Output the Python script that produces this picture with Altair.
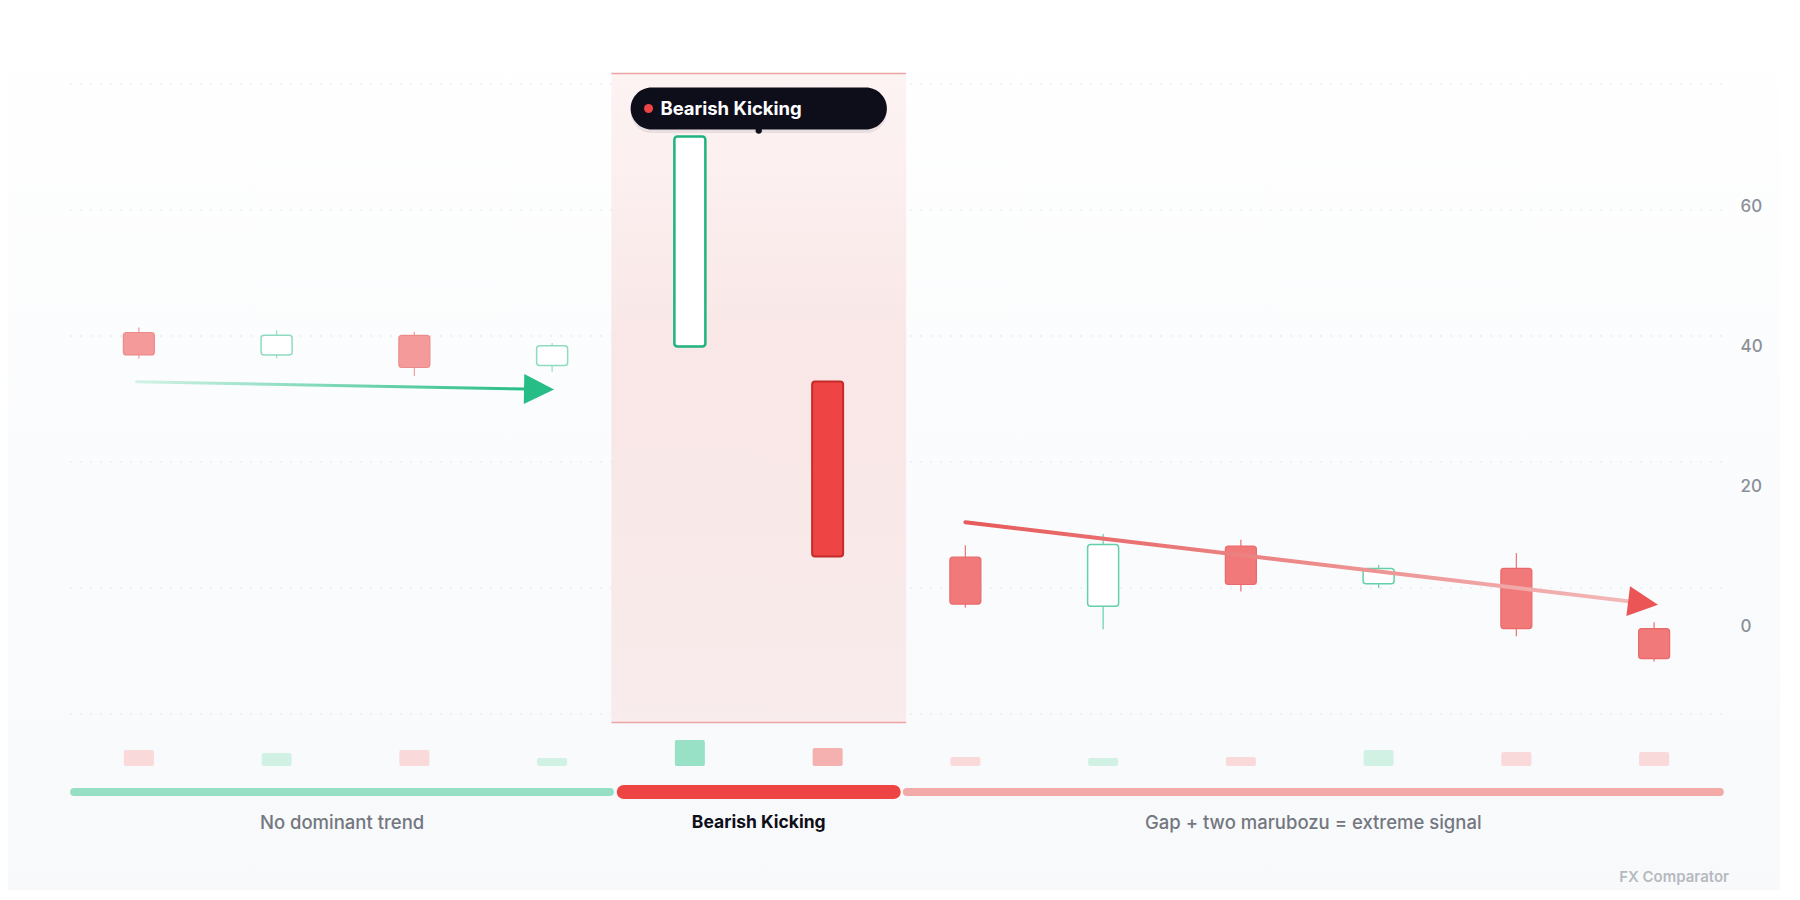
import altair as alt
import pandas as pd

# ---------------- data ----------------
candle_idx = list(range(12))
opens  = [42.0, 38.8, 41.6, 37.3, 40.0, 35.0, 9.9, 2.9, 11.5, 6.1, 8.3, -0.3]
highs  = [42.7, 42.3, 42.1, 40.5, 70.0, 35.0, 11.6, 13.2, 12.4, 8.8, 10.5, 0.6]
lows   = [38.3, 38.3, 35.8, 36.4, 40.0, 10.0, 2.7, -0.4, 5.0, 5.5, -1.4, -5.0]
closes = [38.8, 41.6, 37.0, 40.1, 70.0, 10.0, 3.2, 11.7, 6.0, 8.3, -0.3, -4.6]
volumes = [16, 13, 16, 8, 26, 18, 9, 8, 9, 16, 14, 14]
phases = ["before"] * 4 + ["pattern"] * 2 + ["after"] * 6

y_ticks = [0, 20, 40, 60]
segment_labels = ["No dominant trend", "Bearish Kicking", "Gap + two marubozu = extreme signal"]
segment_ranges = [(0, 4), (4, 6), (6, 12)]
pattern_name = "Bearish Kicking"
credit_text = "FX Comparator"

# trend arrows (candle-index units, price units)
trend_in_x = [0.483, 3.32]
trend_in_y = [34.96, 33.93]
trend_out_x = [6.50, 11.32]
trend_out_y = [14.9, 3.59]

FONT = "Inter"

# ---------------- styling helpers ----------------
def body_style(i):
    up = closes[i] >= opens[i]
    ph = phases[i]
    if ph == "pattern":
        return ("#ffffff", "#1fb37f", 2.5) if up else ("#ef4444", "#c42b2b", 2.0)
    if ph == "before":
        return ("#ffffff", "#8edbbf", 1.5) if up else ("#f49a9a", "#ec8b8b", 1.2)
    return ("#ffffff", "#63d0a8", 1.5) if up else ("#f27979", "#e96a6a", 1.2)

def wick_color(i):
    up = closes[i] >= opens[i]
    ph = phases[i]
    if ph == "before":
        return "#9fe0c8" if up else "#f2a3a3"
    return "#6fd4ae" if up else "#ec7b7b"

def vol_color(i):
    up = closes[i] >= opens[i]
    ph = phases[i]
    if ph == "pattern":
        return "#98e1c6" if up else "#f5b0b0"
    return "#d2f1e5" if up else "#f9d9d9"

n = len(opens)
df = pd.DataFrame({
    "x": [i + 0.5 for i in candle_idx],
    "open": opens, "high": highs, "low": lows, "close": closes,
    "vol": volumes,
})
df["fill"] = [body_style(i)[0] for i in range(n)]
df["stroke"] = [body_style(i)[1] for i in range(n)]
df["sw"] = [body_style(i)[2] for i in range(n)]
df["wick"] = [wick_color(i) for i in range(n)]
df["vcol"] = [vol_color(i) for i in range(n)]

span = max(highs) - min(lows)
y_lo = min(lows) - 0.1 * span
y_hi = max(highs) + 0.1 * span
grid_vals = [y_lo + k * (y_hi - y_lo) / 5 for k in range(6)]

x_scale = alt.Scale(domain=[0, n], nice=False, zero=False)
y_scale = alt.Scale(domain=[y_lo, y_hi], nice=False, zero=False)
y_axis = alt.Axis(orient="right", values=y_ticks, grid=False, domain=False,
                  ticks=False, labelPadding=12, labelAlign="left", labelFont=FONT,
                  labelFontWeight=500, labelFontSize=17, labelColor="#8b9099",
                  title=None, zindex=2)
X = lambda f: alt.X(f, type="quantitative", scale=x_scale, axis=None)
Y = lambda f: alt.Y(f, type="quantitative", scale=y_scale, axis=y_axis)

# ---------------- page background ----------------
bg = alt.Chart(pd.DataFrame({"k": [0]})).mark_rect(
    fill=alt.LinearGradient(gradient="linear", x1=0, x2=0, y1=0, y2=1,
                            stops=[alt.GradientStop(color="#ffffff", offset=0),
                                   alt.GradientStop(color="#fbfcfd", offset=0.45),
                                   alt.GradientStop(color="#f8f9fb", offset=1)])
).encode(x=alt.value(-65), x2=alt.value(1730), y=alt.value(-84), y2=alt.value(816))

# ---------------- grid ----------------
grid = alt.Chart(pd.DataFrame({"v": grid_vals, "x0": 0, "x1": n})).mark_rule(
    color="#e3e6ea", strokeWidth=1, strokeDash=[2, 8]
).encode(x=X("x0"), x2="x1", y=Y("v"))

# ---------------- pattern highlight ----------------
p0, p1 = segment_ranges[1]
hl = pd.DataFrame({"x0": [p0 - 0.07], "x1": [p1 + 0.07],
                   "y0": [y_hi + 1.5], "y1": [y_lo - 1.2]})
hl_rect = alt.Chart(hl).mark_rect(
    fill=alt.LinearGradient(gradient="linear", x1=0, x2=0, y1=0, y2=1,
                            stops=[alt.GradientStop(color="#fdf3f3", offset=0),
                                   alt.GradientStop(color="#f9e5e5", offset=0.45),
                                   alt.GradientStop(color="#f9ebeb", offset=1)]),
    opacity=0.95
).encode(x=X("x0"), x2="x1", y=Y("y0"), y2="y1")
hl_top = alt.Chart(hl).mark_rule(color="#eda5a5", strokeWidth=1.5).encode(
    x=X("x0"), x2="x1", y=Y("y0"))
hl_bot = alt.Chart(hl).mark_rule(color="#eda5a5", strokeWidth=1.5).encode(
    x=X("x0"), x2="x1", y=Y("y1"))

# ---------------- candles ----------------
wicks = alt.Chart(df).mark_rule(strokeWidth=1.3).encode(
    x=X("x"), y=Y("low"), y2="high", color=alt.Color("wick:N", scale=None))
bodies = alt.Chart(df).mark_bar(width=31, cornerRadius=3).encode(
    x=X("x"), y=Y("open"), y2="close",
    fill=alt.Fill("fill:N", scale=None),
    stroke=alt.Stroke("stroke:N", scale=None),
    strokeWidth=alt.StrokeWidth("sw:Q", scale=None))

# ---------------- arrows ----------------
tri = "M-1,-1L1,0L-1,1Z"
gin = alt.Chart(pd.DataFrame({"x": trend_in_x, "v": trend_in_y})).mark_line(
    strokeWidth=3, strokeCap="round",
    color=alt.LinearGradient(gradient="linear", x1=0, x2=1, y1=0, y2=0,
                             stops=[alt.GradientStop(color="#d2f2e6", offset=0),
                                    alt.GradientStop(color="#27bd87", offset=1)])
).encode(x=X("x"), y=Y("v"))
gdx = trend_in_x[1] - trend_in_x[0]
gdy = trend_in_y[1] - trend_in_y[0]
gin_head = alt.Chart(pd.DataFrame({"x": [trend_in_x[1] + 0.085], "v": [trend_in_y[1] + gdy / gdx * 0.085]})).mark_point(
    shape=tri, size=900, filled=True, opacity=1, color="#27bd87", angle=1
).encode(x=X("x"), y=Y("v"))

gout = alt.Chart(pd.DataFrame({"x": trend_out_x, "v": trend_out_y})).mark_line(
    strokeWidth=4, strokeCap="round",
    color=alt.LinearGradient(gradient="linear", x1=0, x2=1, y1=0, y2=0,
                             stops=[alt.GradientStop(color="#e65a5a", offset=0),
                                    alt.GradientStop(color="#f3b8b8", offset=1)])
).encode(x=X("x"), y=Y("v"))
rdx = trend_out_x[1] - trend_out_x[0]
rdy = trend_out_y[1] - trend_out_y[0]
gout_head = alt.Chart(pd.DataFrame({"x": [trend_out_x[1] + 0.1], "v": [trend_out_y[1] + rdy / rdx * 0.1]})).mark_point(
    shape=tri, size=900, filled=True, opacity=1, color="#eb5555", angle=7
).encode(x=X("x"), y=Y("v"))

# ---------------- tooltip ----------------
tc = (p0 + p1) / 2
ty = y_hi - 3.5
tip = pd.DataFrame({"x0": [tc - 0.93], "x1": [tc + 0.93], "y0": [ty + 3.0], "y1": [ty - 3.0],
                    "sy0": [ty + 2.6], "sy1": [ty - 3.5],
                    "dx": [tc - 0.80], "tx": [tc - 0.714], "ty": [ty], "label": [pattern_name],
                    "px": [tc], "py": [ty - 3.14]})
tip_shadow = alt.Chart(tip).mark_rect(cornerRadius=22, fill="#0e0e1b", opacity=0.08).encode(
    x=X("x0"), x2="x1", y=Y("sy0"), y2="sy1")
tip_rect = alt.Chart(tip).mark_rect(cornerRadius=21, fill="#0e0e1b").encode(
    x=X("x0"), x2="x1", y=Y("y0"), y2="y1")
tip_dot = alt.Chart(tip).mark_circle(size=81, color="#ef4444", opacity=1).encode(
    x=X("dx"), y=Y("ty"))
tip_text = alt.Chart(tip).mark_text(align="left", baseline="middle", font=FONT,
                                    fontSize=18.5, fontWeight="bold", color="#ffffff").encode(
    x=X("tx"), y=Y("ty"), text="label:N")
tip_ptr = alt.Chart(tip).mark_circle(size=40, color="#0e0e1b", opacity=1).encode(
    x=X("px"), y=Y("py"))

main = alt.layer(grid, hl_rect, hl_top, hl_bot, wicks, bodies, gin, gin_head, gout, gout_head,
                 tip_shadow, tip_rect, tip_dot, tip_text, tip_ptr)

# ---------------- volume ----------------
vol = alt.Chart(df).mark_bar(width=30, cornerRadius=2).encode(
    x=X("x"),
    y=alt.Y("vol:Q", scale=alt.Scale(domain=[0, 30], range=[682, 652], nice=False), axis=None),
    y2=alt.datum(0),
    color=alt.Color("vcol:N", scale=None))

# ---------------- phase timeline ----------------
seg_rows = []
seg_styles = [("#96dfc4", 8, "#73777f"), ("#ef4444", 14, "#0f0f1a"), ("#f4a9a9", 8, "#73777f")]
pads = [(0.03, 0.08), (0.02, 0.02), (0.075, 0.023)]
for (a, b), lab, (col, w, tcol), (pa, pb) in zip(segment_ranges, segment_labels, seg_styles, pads):
    s, e = a + pa, b - pb
    seg_rows.append({"s": s, "e": e, "mid": (s + e) / 2, "col": col, "w": w, "label": lab,
                     "tcol": tcol, "bold": lab == pattern_name,
                     "row_seg": 0, "row_lab": 1})
seg = pd.DataFrame(seg_rows)
row_scale = alt.Scale(domain=[0, 1], range=[708, 739], nice=False, zero=False)
seg_bar = alt.Chart(seg).mark_rule(strokeCap="round").encode(
    x=X("s"), x2="e",
    y=alt.Y("row_seg:Q", scale=row_scale, axis=None),
    color=alt.Color("col:N", scale=None),
    strokeWidth=alt.StrokeWidth("w:Q", scale=None))
seg_txt_n = alt.Chart(seg).transform_filter("!datum.bold").mark_text(
    font=FONT, fontSize=18.5, fontWeight=500, baseline="middle").encode(
    x=X("mid"), y=alt.Y("row_lab:Q", scale=row_scale, axis=None),
    text="label:N", color=alt.Color("tcol:N", scale=None))
seg_txt_b = alt.Chart(seg).transform_filter("datum.bold").mark_text(
    font=FONT, fontSize=17.5, fontWeight="bold", baseline="middle").encode(
    x=X("mid"), y=alt.Y("row_lab:Q", scale=row_scale, axis=None),
    text="label:N", color=alt.Color("tcol:N", scale=None))
bottom = alt.layer(seg_bar, seg_txt_n, seg_txt_b)

credit = alt.Chart(pd.DataFrame({"t": [credit_text]})).mark_text(
    font=FONT, fontSize=15, fontWeight=600, color="#b6b9bf", align="right", baseline="middle"
).encode(x=alt.value(1664), y=alt.value(793), text="t:N")

chart = alt.layer(bg, main, vol, bottom, credit).resolve_scale(y="independent").properties(
    width=1663, height=630,
    autosize=alt.AutoSizeParams(type="none"),
    padding={"left": 57, "top": 76, "right": 52, "bottom": 176},
    background="#ffffff",
).configure_view(stroke=None)

chart.save("out.html", embed_options={"renderer": "svg", "actions": False})
